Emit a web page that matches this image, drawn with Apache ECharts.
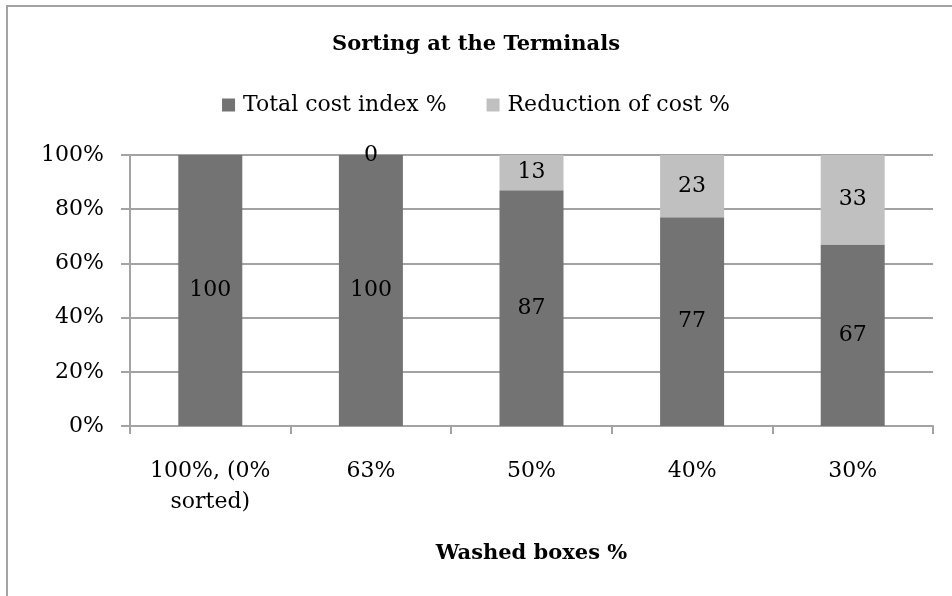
<!DOCTYPE html>
<html>
<head>
<meta charset="utf-8">
<script src="https://cdn.jsdelivr.net/npm/echarts@6/dist/echarts.min.js"></script>
<style>
html,body{margin:0;padding:0;background:#fff;}
#chart{width:952px;height:596px;}
</style>
</head>
<body>
<div id="chart"></div>
<script>
const categories = ['100%, (0%\nsorted)', '63%', '50%', '40%', '30%'];
const totalCost = [100, 100, 87, 77, 67];
const reduction = [null, 0, 13, 23, 33];
const seriesNames = ['Total cost index %', 'Reduction of cost %'];
const titleText = 'Sorting at the Terminals';
const xAxisName = 'Washed boxes %';

const FONT = 'DejaVu Serif';
const GRAY = '#a3a3a3';

const chart = echarts.init(document.getElementById('chart'), null, {renderer: 'canvas'});
chart.setOption({
  animation: false,
  backgroundColor: '#fff',
  graphic: [{
    type: 'rect',
    shape: {x: 7, y: 6, width: 1200, height: 1200},
    style: {fill: 'none', stroke: GRAY, lineWidth: 2},
    silent: true
  }],
  title: {
    text: titleText,
    left: 'center',
    top: 34,
    padding: 0,
    textStyle: {fontFamily: FONT, fontWeight: 'bold', fontSize: 21, color: '#000'}
  },
  legend: {
    data: seriesNames,
    left: 'center',
    top: 94,
    padding: 0,
    icon: 'rect',
    itemWidth: 13,
    itemHeight: 13,
    itemGap: 40,
    textStyle: {fontFamily: FONT, fontSize: 22, color: '#000', padding: [0, 0, 0, 3]}
  },
  grid: {left: 130, right: 19, top: 155, bottom: 170, containLabel: false},
  xAxis: {
    type: 'category',
    data: categories,
    name: xAxisName,
    nameLocation: 'middle',
    nameGap: 117,
    nameTextStyle: {fontFamily: FONT, fontWeight: 'bold', fontSize: 21, color: '#000'},
    axisLine: {show: true, lineStyle: {color: GRAY, width: 2}},
    axisTick: {show: true, length: 8, lineStyle: {color: GRAY, width: 2}},
    axisLabel: {fontFamily: FONT, fontSize: 22, color: '#000', margin: 30, lineHeight: 31}
  },
  yAxis: {
    type: 'value',
    min: 0,
    max: 100,
    interval: 20,
    axisLine: {show: true, lineStyle: {color: GRAY, width: 2}},
    axisTick: {show: true, length: 9, lineStyle: {color: GRAY, width: 2}},
    splitLine: {show: true, lineStyle: {color: GRAY, width: 2}},
    axisLabel: {fontFamily: FONT, fontSize: 22, color: '#000', margin: 26, formatter: '{value}%'}
  },
  series: [
    {
      name: seriesNames[0],
      type: 'bar',
      stack: 'total',
      barWidth: 64,
      data: totalCost,
      itemStyle: {color: '#737373'},
      label: {show: true, position: 'inside', fontFamily: FONT, fontSize: 22, color: '#000'}
    },
    {
      name: seriesNames[1],
      type: 'bar',
      stack: 'total',
      barWidth: 64,
      data: reduction,
      itemStyle: {color: '#c0c0c0'},
      label: {show: true, position: 'inside', fontFamily: FONT, fontSize: 22, color: '#000'}
    }
  ]
});
</script>
</body>
</html>
